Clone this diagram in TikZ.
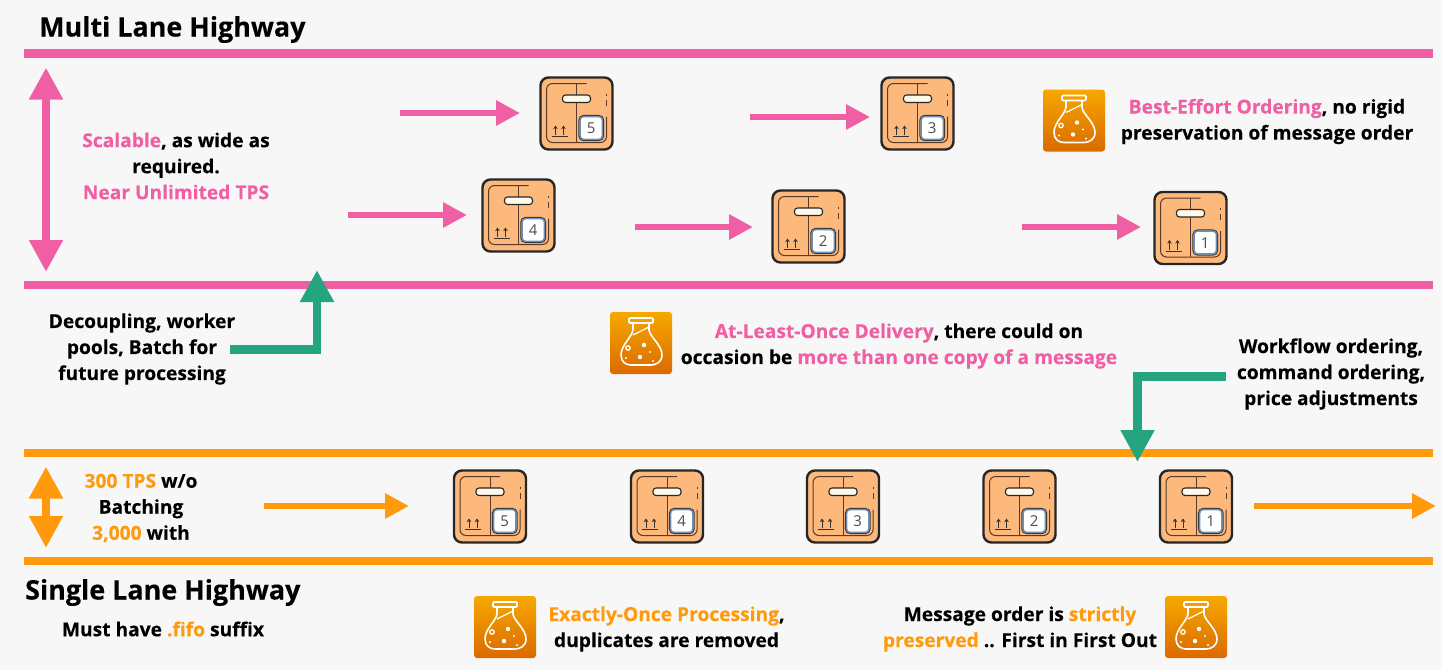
\documentclass[tikz,border=0pt]{standalone}
\usepackage{fontspec}
\setmainfont{Open Sans}[BoldFont={* Bold},BoldFeatures={FakeBold=0.25}]
\usetikzlibrary{arrows.meta,shadows}
\definecolor{pinkc}{HTML}{F05FA3}
\definecolor{orangec}{HTML}{FF9A0D}
\definecolor{greenc}{HTML}{25A57F}
\definecolor{bgc}{HTML}{F7F7F7}
\definecolor{boxc}{HTML}{FDB87C}
\definecolor{lnc}{HTML}{5A3A28}
\definecolor{tagb}{HTML}{6D8FB5}
\definecolor{flaskt}{HTML}{F6A800}
\definecolor{flaskb}{HTML}{DA6A00}
\definecolor{creamc}{HTML}{FFF9EA}
\tikzset{
  x=1pt,y=-1pt,
  road/.style={line width=8.2pt},
  flow/.style={line width=6.2pt,-{Triangle[length=24pt,width=24pt]}},
  updown/.style={line width=8pt,{Triangle[length=32pt,width=32pt]}-{Triangle[length=32pt,width=32pt]}},
  turn/.style={draw=greenc,line width=8.4pt,-{Triangle[length=32pt,width=32pt]}},
  txt/.style={font=\fontsize{19.2}{26}\selectfont\bfseries,align=center,inner sep=0pt,text=black},
  heading/.style={font=\fontsize{26.9}{32}\selectfont\bfseries,anchor=base west,inner sep=0pt,text=black},
  pics/parcel/.style={code={
    \draw[fill=boxc,draw=black!85,line width=2.4pt,rounded corners=8pt] (-36,-36) rectangle (36,36);
    \draw[lnc,line width=1pt,rounded corners=6pt] (10,-30) -- (-30,-30) -- (-30,29) -- (30,29) -- (30,3);
    \draw[lnc,line width=1pt] (0,-30) -- (0,29);
    \draw[lnc,line width=1pt] (30,-20) -- (30,-18) (30,-14) -- (30,-8);
    \draw[fill=creamc,draw=black!85,line width=1.1pt,rounded corners=3pt] (-14,-18.5) rectangle (14,-11);
    \draw[black!80,line width=.9pt,-{Stealth[length=3.5pt,width=4.5pt]}] (-21,21.5) -- (-21,12);
    \draw[black!80,line width=.9pt,-{Stealth[length=3.5pt,width=4.5pt]}] (-13,21.5) -- (-13,12);
    \draw[black!80,line width=1pt] (-25,23) -- (-9,23);
    \draw[fill=white,draw=black!80,line width=1.2pt,rounded corners=4.5pt] (2.5,2) rectangle (27,27);
    \draw[tagb,line width=1.5pt,rounded corners=3.5pt] (3.6,3.1) rectangle (25.9,25.9);
    \node[inner sep=0pt,text=black!70,font=\fontsize{15}{15}\selectfont] at (14.7,14.7) {#1};
  }},
  pics/flask/.style={code={
    \shade[top color=flaskt,bottom color=flaskb,rounded corners=3pt] (-31,-31) rectangle (31,31);
    \draw[white,line width=1.6pt,rounded corners=1pt] (-12,-25) rectangle (12,-20);
    \draw[white,line width=1.6pt] (-8,-20) -- (-8,-13) .. controls (-9,-6) and (-20,2) .. (-20,12)
      .. controls (-20,19) and (-15,22) .. (-10,22) -- (10,22)
      .. controls (15,22) and (21,19) .. (21,12) .. controls (21,2) and (9,-6) .. (8,-13) -- (8,-20);
    \draw[white,line width=1.3pt] (-8,-8) -- (8,-16);
    \draw[white,line width=1.3pt] (-13,5) circle (2.2);
    \fill[white] (-1,14) circle (2.2);
    \fill[white] (3,2) circle (2.2);
    \fill[white] (-15,15) circle (1.2);
    \fill[white] (9,9) circle (1.2);
    \fill[white] (12,18) circle (1.2);
  }},
}
\begin{document}
\begin{tikzpicture}
\useasboundingbox[fill=bgc] (0,0) rectangle (1442,670);
\coordinate (m1l) at (24,53.5); \coordinate (m1r) at (1433,53.5);
\coordinate (m2l) at (24,285); \coordinate (m2r) at (1433,285);
\coordinate (s1l) at (24,452.7); \coordinate (s1r) at (1433,452.7);
\coordinate (s2l) at (24,561); \coordinate (s2r) at (1433,561);
\draw[road,pinkc] (m1l) -- (m1r);
\draw[road,pinkc] (m2l) -- (m2r);
\draw[road,orangec] (s1l) -- (s1r);
\draw[road,orangec] (s2l) -- (s2r);
\coordinate (ua) at (46,67.5); \coordinate (ub) at (46,272);
\draw[updown,pinkc] (ua) -- (ub);
\coordinate (uc) at (46,466.5); \coordinate (ud) at (46,548);
\draw[updown,orangec] (uc) -- (ud);
\foreach \n/\a/\b/\y in {p1/400/520/113,p2/750/870/117,p3/348/467/215,p4/635/753/227,p5/1022/1141/227}{
  \coordinate (\n a) at (\a,\y); \coordinate (\n b) at (\b,\y);
  \draw[flow,pinkc] (\n a) -- (\n b);
}
\foreach \n/\a/\b in {o1/264/409,o2/1254/1436}{
  \coordinate (\n a) at (\a,506); \coordinate (\n b) at (\b,506);
  \draw[flow,orangec] (\n a) -- (\n b);
}
\pic at (576.5,113.5) {parcel=5};
\pic at (917.5,113.5) {parcel=3};
\pic at (518.5,215.5) {parcel=4};
\pic at (808.5,226.5) {parcel=2};
\pic at (1190.5,228) {parcel=1};
\pic at (490,506.5) {parcel=5};
\pic at (667,506.5) {parcel=4};
\pic at (843,506.5) {parcel=3};
\pic at (1019.5,506.5) {parcel=2};
\pic at (1196,506.5) {parcel=1};
\pic at (1074,120.5) {flask};
\pic at (641,343) {flask};
\pic at (505,627) {flask};
\pic at (1196,627) {flask};
\node[heading] (t1) at (39,36.5) {Multi Lane Highway};
\node[heading] (t2) at (25,599.5) {Single Lane Highway};
\node[txt] (n1) at (176,166) {\textcolor{pinkc}{Scalable}, as wide as\\required.\\\textcolor{pinkc}{Near Unlimited TPS}};
\node[txt] (n2) at (1267,121.5) {\textcolor{pinkc}{Best-Effort Ordering}, no rigid\\preservation of message order};
\node[txt] (n3) at (142,349) {Decoupling, worker\\pools, Batch for\\future processing};
\node[txt] (n4) at (899,346) {\textcolor{pinkc}{At-Least-Once Delivery}, there could on\\occasion be \textcolor{pinkc}{more than one copy of a message}};
\node[txt] (n5) at (1331,374) {Workflow ordering,\\command ordering,\\price adjustments};
\node[txt] (n6) at (141,508) {\textcolor{orangec}{300 TPS} w/o\\Batching\\\textcolor{orangec}{3,000} with};
\node[txt] (n7) at (163,629) {Must have \textcolor{orangec}{.fifo} suffix};
\node[txt] (n8) at (666.5,629) {\textcolor{orangec}{Exactly-Once Processing},\\duplicates are removed};
\node[txt] (n9) at (1020,629) {Message order is \textcolor{orangec}{strictly}\\\textcolor{orangec}{preserved} .. First in First Out};
\coordinate (g1s) at (230,349.5);
\coordinate (g1) at (317,270);
\coordinate (g2s) at (1226,376.5);
\coordinate (g2) at (1137.5,462);
\draw[turn] (g1s) -| (g1);
\draw[turn] (g2s) -| (g2);
\end{tikzpicture}
\end{document}
